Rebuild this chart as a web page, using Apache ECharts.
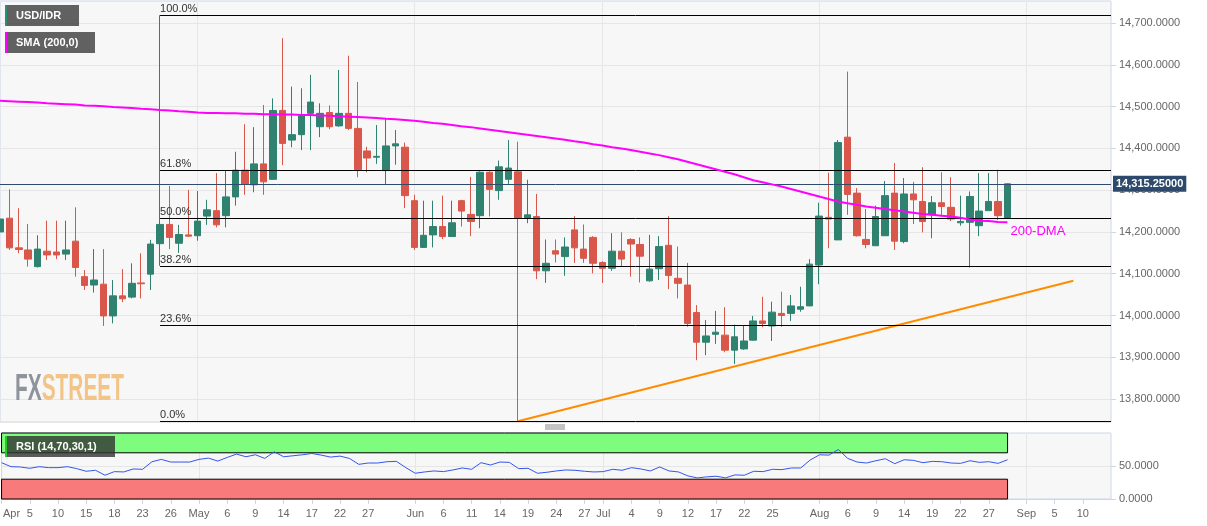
<!DOCTYPE html>
<html><head><meta charset="utf-8">
<script src="https://cdn.jsdelivr.net/npm/echarts@6/dist/echarts.min.js"></script>
<style>html,body{margin:0;padding:0;background:#fff}#c{width:1207px;height:526px}</style>
</head><body><div id="c"></div>
<script>
// trading days shown on the x axis
const categories = [
'2019-04-02','2019-04-03','2019-04-04','2019-04-05','2019-04-08','2019-04-09','2019-04-10','2019-04-11','2019-04-12','2019-04-15',
'2019-04-16','2019-04-17','2019-04-18','2019-04-19','2019-04-22','2019-04-23','2019-04-24','2019-04-25','2019-04-26','2019-04-29',
'2019-04-30','2019-05-01','2019-05-02','2019-05-03','2019-05-06','2019-05-07','2019-05-08','2019-05-09','2019-05-10','2019-05-13',
'2019-05-14','2019-05-15','2019-05-16','2019-05-17','2019-05-20','2019-05-21','2019-05-22','2019-05-23','2019-05-24','2019-05-27',
'2019-05-28','2019-05-29','2019-05-30','2019-05-31','2019-06-03','2019-06-04','2019-06-05','2019-06-06','2019-06-07','2019-06-10',
'2019-06-11','2019-06-12','2019-06-13','2019-06-14','2019-06-17','2019-06-18','2019-06-19','2019-06-20','2019-06-21','2019-06-24',
'2019-06-25','2019-06-26','2019-06-27','2019-06-28','2019-07-01','2019-07-02','2019-07-03','2019-07-04','2019-07-05','2019-07-08',
'2019-07-09','2019-07-10','2019-07-11','2019-07-12','2019-07-15','2019-07-16','2019-07-17','2019-07-18','2019-07-19','2019-07-22',
'2019-07-23','2019-07-24','2019-07-25','2019-07-26','2019-07-29','2019-07-30','2019-07-31','2019-08-01','2019-08-02','2019-08-05',
'2019-08-06','2019-08-07','2019-08-08','2019-08-09','2019-08-12','2019-08-13','2019-08-14','2019-08-15','2019-08-16','2019-08-19',
'2019-08-20','2019-08-21','2019-08-22','2019-08-23','2019-08-26','2019-08-27','2019-08-28','2019-08-29','2019-08-30','2019-09-02',
'2019-09-03','2019-09-04','2019-09-05','2019-09-06','2019-09-09','2019-09-10','2019-09-11','2019-09-12','2019-09-13'];

// [open, close, low, high]
const candles = [
[14200,14231,14195,14263],[14233,14162,14157,14302],[14162,14158,14149,14257],[14157,14135,14117,14219],[14117,14159,14115,14192],
[14154,14145,14133,14227],[14152,14145,14135,14227],[14147,14157,14133,14227],[14178,14115,14093,14259],[14093,14072,14061,14109],
[14073,14085,14055,14159],[14075,13999,13975,14159],[13999,14047,13981,14085],[14047,14040,14032,14111],[14044,14077,14041,14125],
[14078,14076,14041,14149],[14099,14171,14061,14181],[14172,14218,14119,14719],[14218,14187,14159,14310],[14173,14194,14150,14217],
[14193,14190,14189,14301],[14191,14226,14179,14298],[14238,14253,14217,14277],[14251,14217,14211,14341],[14239,14284,14211,14348],
[14284,14348,14263,14392],[14348,14314,14289,14458],[14313,14363,14295,14451],[14363,14320,14289,14504],[14326,14491,14325,14520],
[14491,14412,14360,14664],[14420,14433,14403,14548],[14433,14478,14396,14544],[14484,14511,14396,14576],[14452,14484,14427,14508],
[14486,14452,14446,14503],[14454,14484,14452,14588],[14484,14448,14444,14622],[14448,14349,14331,14559],[14394,14377,14343,14404],
[14379,14381,14363,14456],[14347,14406,14313,14472],[14406,14411,14361,14444],[14403,14287,14257,14414],[14275,14163,14157,14289],
[14163,14192,14162,14275],[14193,14213,14163,14275],[14213,14189,14183,14287],[14189,14222,14189,14275],[14275,14250,14213,14277],
[14242,14225,14190,14332],[14239,14343,14209,14345],[14343,14302,14237,14345],[14299,14356,14277,14371],[14326,14353,14315,14420],
[14344,14233,13747,14416],[14233,14241,14221,14325],[14237,14107,14087,14291],[14107,14125,14078,14182],[14155,14147,14127,14182],
[14141,14164,14095,14187],[14205,14162,14126,14238],[14159,14137,14126,14218],[14187,14125,14101,14190],[14127,14113,14078,14130],
[14113,14154,14107,14197],[14154,14135,14117,14199],[14182,14171,14093,14185],[14170,14142,14079,14187],[14083,14111,14081,14193],
[14112,14165,14085,14190],[14168,14096,14063,14238],[14089,14077,14041,14165],[14073,13981,13973,14126],[14007,13936,13893,14025],
[13936,13951,13905,13989],[13955,13960,13932,14011],[13953,13917,13912,14020],[13917,13949,13884,13978],[13920,13939,13918,13975],
[13941,13987,13940,13999],[13987,13981,13972,14045],[13975,14008,13939,14033],[14005,14000,13973,14057],[14005,14023,13987,14049],
[14015,14021,14009,14069],[14023,14123,14023,14135],[14121,14238,14075,14270],[14235,14231,14161,14342],[14181,14414,14181,14420],
[14427,14290,14241,14584],[14293,14191,14189,14305],[14182,14170,14161,14255],[14167,14237,14167,14263],[14191,14287,14191,14322],
[14293,14178,14157,14365],[14177,14291,14173,14329],[14291,14277,14219,14320],[14273,14225,14199,14355],[14241,14270,14185,14286],
[14270,14261,14237,14343],[14259,14231,14226,14331],[14222,14225,14215,14287],[14223,14285,14115,14297],[14215,14250,14190,14341],
[14251,14273,14251,14341],[14273,14239,14229,14349],[14233,14315.25,14232,14316]];

const sma200 = [
14514,14513,14512,14511,14510,14508,14507,14506,14505,14503,
14502,14501,14499,14498,14497,14495,14494,14492,14491,14489,
14488,14486,14485,14485,14484,14484,14483,14483,14482,14482,
14481,14481,14480,14480,14479,14478,14477,14476,14475,14474,
14473,14471,14470,14468,14466,14464,14461,14459,14456,14453,
14451,14448,14445,14442,14439,14436,14433,14430,14427,14424,
14421,14417,14414,14410,14407,14403,14400,14396,14392,14388,
14384,14379,14374,14368,14362,14356,14350,14344,14338,14331,
14324,14319,14314,14309,14303,14297,14291,14285,14279,14273,
14269,14265,14261,14258,14255,14252,14249,14246,14243,14241,
14239,14237,14234,14230,14227,14226,14224,14223];

const rsi = [
55,49,48.5,46.5,49,47.5,47.5,49,46,42,
43.5,36,41.5,41,45.5,45,56.5,60,56,56,
56,60,62,57.5,63,68,64,67,61.5,71.5,
64,65.5,67,69,66.5,63.5,65,61.5,52.5,54.5,
54.5,56.5,57,47.5,39,41,42.5,41.5,44,47,
45,55,51.5,56,55.5,46,46.5,39,40.5,42.5,
44,43.5,42,41,41.5,45,43.5,47.5,45.5,42.5,
48.5,42.5,41,35,32,33.5,34.5,32,36.5,36,
42,41.5,45,44.5,47,47,59,67,66.5,75,
61.5,56,54.5,58,61,53.5,59.5,58.5,55,57,
56.5,54.5,54,58,55.5,56.5,54,59.5];

const tickDates = ['2019-04-02','2019-04-05','2019-04-10','2019-04-15','2019-04-18','2019-04-23','2019-04-26',
'2019-05-01','2019-05-06','2019-05-09','2019-05-14','2019-05-17','2019-05-22','2019-05-27',
'2019-06-03','2019-06-06','2019-06-11','2019-06-14','2019-06-19','2019-06-24','2019-06-27',
'2019-07-01','2019-07-04','2019-07-09','2019-07-12','2019-07-17','2019-07-22','2019-07-25',
'2019-08-01','2019-08-06','2019-08-09','2019-08-14','2019-08-19','2019-08-22','2019-08-27',
'2019-09-02','2019-09-05','2019-09-10'];
const tickLabels = ['Apr','5','10','15','18','23','26','May','6','9','14','17','22','27',
'Jun','6','11','14','19','24','27','Jul','4','9','12','17','22','25',
'Aug','6','9','14','19','22','27','Sep','5','10'];
const monthStarts = ['2019-05-01','2019-06-03','2019-07-01','2019-08-01','2019-09-02'];

const fibHigh = 14719, fibLow = 13747;
const fibStart = '2019-04-25';
const fibRatios = [1, 0.618, 0.5, 0.382, 0.236, 0];
const trendLine = [['2019-06-18', 13747], ['2019-09-09', 14083]];
const lastPrice = 14315.25;
const rsiUpper = 70, rsiLower = 30;

const labelMap = {};
tickDates.forEach((d, i) => { labelMap[d] = tickLabels[i]; });
const monthSet = new Set(monthStarts);
const FONT = '"Liberation Sans", Arial, sans-serif';
const fmt4 = v => Number(v).toLocaleString('en-US', {minimumFractionDigits: 4, maximumFractionDigits: 4});

const chart = echarts.init(document.getElementById('c'), null, {renderer: 'canvas'});
const lastCat = categories[categories.length - 1];
const lastCandleCat = categories[candles.length - 1];

const fibLines = fibRatios.map(r => {
  const v = fibLow + r * (fibHigh - fibLow);
  return [{coord: [fibStart, v], name: (r * 100).toFixed(1) + '%'}, {coord: [lastCat, v]}];
});

const option = {
  animation: false,
  backgroundColor: '#ffffff',
  textStyle: {fontFamily: FONT},
  grid: [
    {left: 0, right: 96, top: 1, height: 421, show: true, backgroundColor: '#f7f7f7', borderColor: '#ccd6eb', borderWidth: 1},
    {left: 0, right: 96, top: 433, height: 66, show: true, backgroundColor: '#f7f7f7', borderColor: '#ccd6eb', borderWidth: 1}
  ],
  xAxis: [
    {type: 'category', gridIndex: 0, data: categories, boundaryGap: false,
     axisLine: {show: false}, axisTick: {show: false}, axisLabel: {show: false},
     splitLine: {show: true, interval: (i, v) => monthSet.has(v), lineStyle: {color: '#e6e6e6', width: 1}}},
    {type: 'category', gridIndex: 1, data: categories, boundaryGap: false,
     axisLine: {show: true, lineStyle: {color: '#ccd6eb'}},
     axisTick: {show: true, interval: (i, v) => v in labelMap, length: 5, lineStyle: {color: '#ccd6eb'}},
     axisLabel: {show: true, interval: (i, v) => v in labelMap, color: '#666', fontSize: 11, fontFamily: FONT, margin: 9,
       formatter: (v) => v === categories[0] ? '{first|' + labelMap[v] + '}' : labelMap[v],
       rich: {first: {color: '#666', fontSize: 11, fontFamily: FONT, padding: [0, 0, 0, 20]}}},
     splitLine: {show: true, interval: (i, v) => monthSet.has(v), lineStyle: {color: '#e6e6e6', width: 1}}}
  ],
  yAxis: [
    {type: 'value', gridIndex: 0, position: 'right', min: 13745, max: 14753, splitNumber: 10, scale: true,
     axisLine: {show: false}, axisTick: {show: true, length: 5, lineStyle: {color: '#ccd6eb'}},
     axisLabel: {color: '#666', fontSize: 11, fontFamily: FONT, margin: 8, showMinLabel: false, showMaxLabel: false, formatter: fmt4},
     splitLine: {lineStyle: {color: '#e6e6e6'}}},
    {type: 'value', gridIndex: 1, position: 'right', min: 0, max: 100, interval: 50,
     axisLine: {show: false}, axisTick: {show: true, length: 5, lineStyle: {color: '#ccd6eb'}},
     axisLabel: {color: '#666', fontSize: 11, fontFamily: FONT, margin: 8, showMaxLabel: false, formatter: fmt4},
     splitLine: {lineStyle: {color: '#e6e6e6'}}}
  ],
  series: [
    {type: 'line', name: 'trend', xAxisIndex: 0, yAxisIndex: 0, data: trendLine, symbol: 'none', silent: true,
     lineStyle: {color: '#ff8c00', width: 2}, z: 3},
    {type: 'candlestick', name: 'USD/IDR', xAxisIndex: 0, yAxisIndex: 0, data: candles, barWidth: 7,
     itemStyle: {color: '#2f8270', color0: '#d9574a', borderColor: '#2f8270', borderColor0: '#d9574a', borderWidth: 1},
     z: 4,
     markLine: {
       silent: true, symbol: ['none', 'none'], animation: false,
       lineStyle: {color: '#000', width: 1, type: 'solid'},
       label: {show: true, position: 'insideStartTop', formatter: '{b}', color: '#333', fontSize: 11, fontFamily: FONT, distance: [0, 1]},
       data: fibLines.concat([
         {yAxis: lastPrice, name: '14,315.25000',
          lineStyle: {color: '#2f4b6b', width: 1, type: 'solid'},
          label: {position: 'end', formatter: '{b}', color: '#fff', fontWeight: 'bold', fontSize: 11, fontFamily: FONT,
                  backgroundColor: '#2d4a6c', padding: [3, 3, 2, 3], distance: 2}}
       ])
     }},
    {type: 'line', name: 'SMA (200,0)', xAxisIndex: 0, yAxisIndex: 0, data: sma200, symbol: 'none', silent: true,
     lineStyle: {color: '#ff00ff', width: 2}, z: 5,
     endLabel: {show: true, formatter: '200-DMA', color: '#ff00ff', fontSize: 13, fontFamily: FONT, offset: [-5, 9]}},
    {type: 'line', name: 'RSI', xAxisIndex: 1, yAxisIndex: 1, data: rsi, symbol: 'none', silent: true,
     lineStyle: {color: '#3355ee', width: 1}, z: 5,
     markArea: {silent: true, data: [
       [{xAxis: categories[0], yAxis: rsiUpper, itemStyle: {color: '#7dfc7d', borderColor: '#000', borderWidth: 1}}, {xAxis: lastCandleCat, yAxis: 100}],
       [{xAxis: categories[0], yAxis: 0, itemStyle: {color: '#f97a7a', borderColor: '#000', borderWidth: 1}}, {xAxis: lastCandleCat, yAxis: rsiLower}]
     ]}}
  ],
  graphic: [
    {type: 'rect', shape: {x: 5, y: 5, width: 74, height: 21}, style: {fill: 'rgba(64,64,64,0.82)'}, z: 100},
    {type: 'rect', shape: {x: 5, y: 5, width: 2, height: 21}, style: {fill: '#2e8b74'}, z: 101},
    {type: 'text', x: 16, y: 16, style: {text: 'USD/IDR', fill: '#fff', font: 'bold 11px ' + FONT, verticalAlign: 'middle'}, z: 101},
    {type: 'rect', shape: {x: 5, y: 32, width: 90, height: 21}, style: {fill: 'rgba(64,64,64,0.82)'}, z: 100},
    {type: 'rect', shape: {x: 5, y: 32, width: 2, height: 21}, style: {fill: '#ff00ff'}, z: 101},
    {type: 'text', x: 16, y: 43, style: {text: 'SMA (200,0)', fill: '#fff', font: 'bold 11px ' + FONT, verticalAlign: 'middle'}, z: 101},
    {type: 'rect', shape: {x: 5, y: 436, width: 110, height: 21}, style: {fill: 'rgba(50,50,50,0.8)'}, z: 100},
    {type: 'rect', shape: {x: 5, y: 436, width: 2, height: 21}, style: {fill: '#22cc22'}, z: 101},
    {type: 'text', x: 16, y: 447, style: {text: 'RSI (14,70,30,1)', fill: '#fff', font: 'bold 11px ' + FONT, verticalAlign: 'middle'}, z: 101},
    {type: 'text', x: 15, y: 390, scaleX: 0.58, z: 1,
     style: {text: '{a|FX}{b|STREET}', verticalAlign: 'middle', font: 'bold 36px "Liberation Sans Narrow", ' + FONT,
       rich: {a: {fill: '#8f949c', font: 'bold 36px "Liberation Sans Narrow", ' + FONT},
              b: {fill: '#f2c487', font: 'bold 36px "Liberation Sans Narrow", ' + FONT}}}},
    {type: 'line', shape: {x1: 545, y1: 425, x2: 565, y2: 425}, style: {stroke: '#888', lineWidth: 1}},
    {type: 'line', shape: {x1: 545, y1: 427, x2: 565, y2: 427}, style: {stroke: '#888', lineWidth: 1}},
    {type: 'line', shape: {x1: 545, y1: 429, x2: 565, y2: 429}, style: {stroke: '#888', lineWidth: 1}}
  ]
};
chart.setOption(option);
</script>
</body></html>
